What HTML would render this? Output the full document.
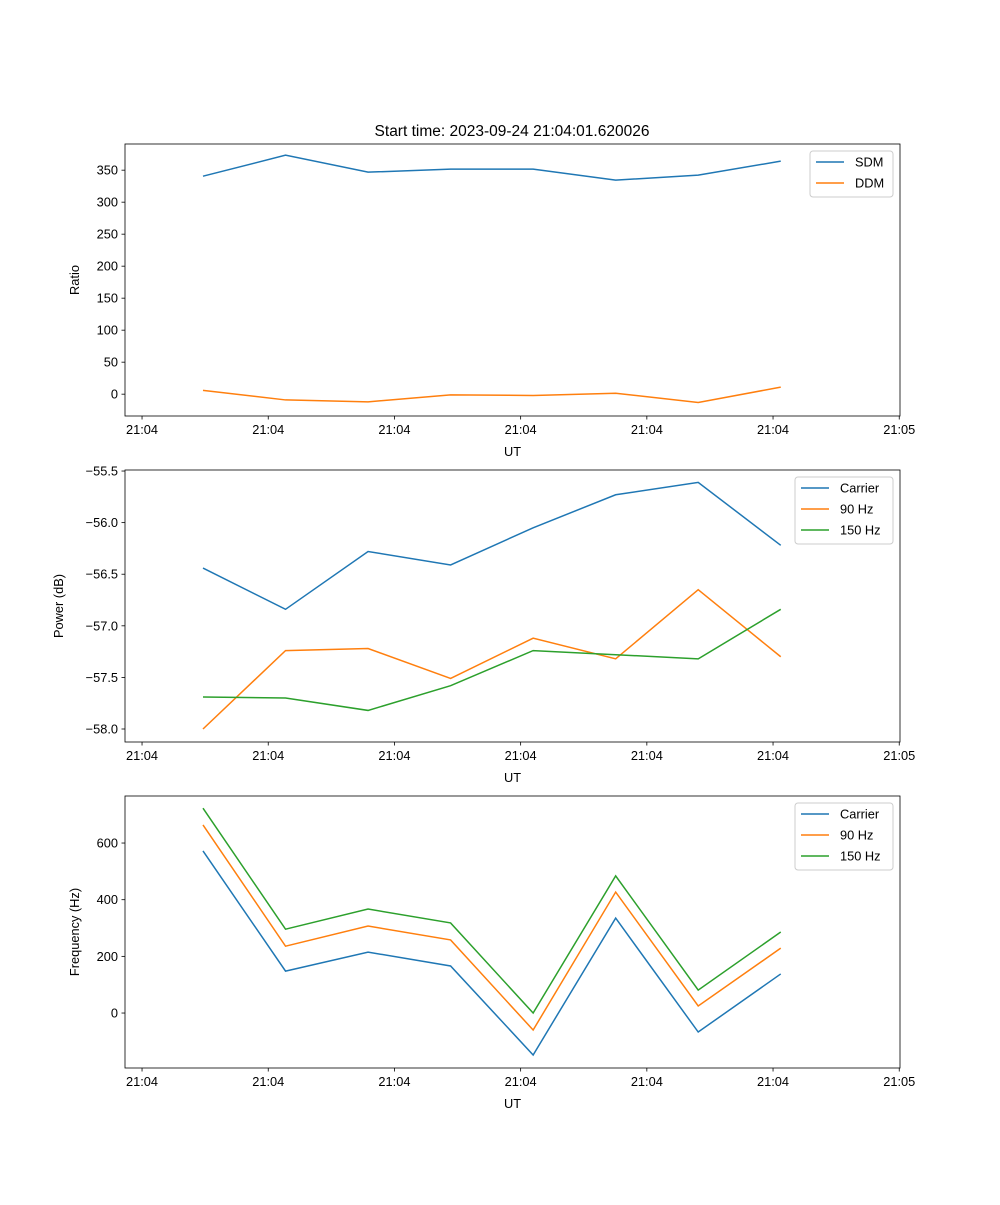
<!DOCTYPE html>
<html><head><meta charset="utf-8"><style>
body{margin:0;background:#fff}
svg text{font-family:"Liberation Sans","DejaVu Sans",sans-serif;fill:#000}
</style></head><body>
<svg id="fig" width="1000" height="1200" xmlns="http://www.w3.org/2000/svg">
<rect width="1000" height="1200" fill="#fff"/>
<text x="512" y="136" font-size="15.5" text-anchor="middle">Start time: 2023-09-24 21:04:01.620026</text>
</svg>
<script>
const times = [0.483, 1.137, 1.791, 2.445, 3.099, 3.753, 4.407, 5.061];
const xTickVals = [0, 1, 2, 3, 4, 5, 6];
const xTickLabels = ["21:04","21:04","21:04","21:04","21:04","21:04","21:05"];
const sdm = [340.6, 373.4, 346.9, 351.6, 351.6, 334.4, 342.2, 364.1];
const ddm = [6, -9, -12, -1, -2, 1.5, -13, 11];
const pCarrier = [-56.44, -56.84, -56.28, -56.41, -56.05, -55.73, -55.61, -56.22];
const p90 = [-58.0, -57.24, -57.22, -57.51, -57.12, -57.32, -56.65, -57.30];
const p150 = [-57.69, -57.70, -57.82, -57.58, -57.24, -57.28, -57.32, -56.84];
const fCarrier = [572, 148, 215, 166, -148, 335, -67, 138];
const f90 = [664, 236, 307, 258, -60, 427, 25, 229];
const f150 = [723, 296, 367, 318, 0, 484, 81, 286];
const ratioTicks = [0, 50, 100, 150, 200, 250, 300, 350];
const powerTicks = [-58.0, -57.5, -57.0, -56.5, -56.0, -55.5];
const freqTicks = [0, 200, 400, 600];

const NS = "http://www.w3.org/2000/svg";
const svg = document.getElementById('fig');
const C = ['#1f77b4', '#ff7f0e', '#2ca02c'];
const FS = 12.8;
function mk(tag, attrs, parent) {
  const e = document.createElementNS(NS, tag);
  for (const k in attrs) e.setAttribute(k, attrs[k]);
  (parent || svg).appendChild(e);
  return e;
}
const L = 125, R = 900, xMin = -0.135, xMax = 6.006;
function xs(t) { return L + (t - xMin) / (xMax - xMin) * (R - L); }

function panel(name, top, bot, yMin, yMax, yTicks, fmt, ylabel, series, names, legend) {
  const g = mk('g', {});
  
  
  const ys = v => bot - (v - yMin) / (yMax - yMin) * (bot - top);
  series.forEach((s, i) => {
    const p = mk('polyline', {points: s.map((v, j) => xs(times[j]) + ',' + ys(v)).join(' '), fill: 'none', stroke: C[i], 'stroke-width': 1.5}, g);
    
    
  });
  const fr = mk('rect', {x: L, y: top, width: R - L, height: bot - top, fill: 'none', stroke: '#000', 'stroke-width': 0.8}, g);
  
  
  xTickVals.forEach((t, i) => {
    const x = xs(t);
    mk('line', {x1: x, x2: x, y1: bot, y2: bot + 3.5, stroke: '#000', 'stroke-width': 0.8}, g);
    const tx = mk('text', {x: x, y: bot + 18, 'font-size': FS, 'text-anchor': 'middle'}, g);
    tx.textContent = xTickLabels[i];
    
    
  });
  yTicks.forEach(v => {
    const y = ys(v);
    mk('line', {x1: L - 3.5, x2: L, y1: y, y2: y, stroke: '#000', 'stroke-width': 0.8}, g);
    const tx = mk('text', {x: L - 7, y: y + 4.5, 'font-size': FS, 'text-anchor': 'end'}, g);
    tx.textContent = fmt(v);
    
    
  });
  const xl = mk('text', {x: (L + R) / 2, y: bot + 40, 'font-size': FS, 'text-anchor': 'middle'}, g);
  xl.textContent = 'UT';
  
  
  const yc = (top + bot) / 2;
  const yl = mk('text', {x: ylabel[1], y: yc, 'font-size': FS, 'text-anchor': 'middle', transform: 'rotate(-90 ' + ylabel[1] + ' ' + yc + ')'}, g);
  yl.textContent = ylabel[0];
  
  
  const lg = mk('g', {}, g);
  
  
  mk('rect', {x: legend[0], y: top + 7, width: 893 - legend[0], height: names.length * 21 + 4, rx: 3, fill: '#fff', stroke: '#ccc', 'stroke-width': 1}, lg);
  names.forEach((n, i) => {
    const y = top + 18 + i * 21;
    mk('line', {x1: legend[0] + 6, x2: legend[0] + 34, y1: y, y2: y, stroke: C[i], 'stroke-width': 1.5}, lg);
    const t = mk('text', {x: legend[0] + 45, y: y + 4.5, 'font-size': FS}, lg);
    t.textContent = n;
    
    
  });
}
panel('ratio', 144, 416, -34.1, 390.9, ratioTicks, v => String(v), ['Ratio', 79], [sdm, ddm], ['SDM', 'DDM'], [810]);
panel('power', 470, 742, -58.126, -55.49, powerTicks, v => v.toFixed(1).replace('-', '−'), ['Power (dB)', 63], [pCarrier, p90, p150], ['Carrier', '90 Hz', '150 Hz'], [795]);
panel('frequency', 796, 1068, -194, 766, freqTicks, v => String(v), ['Frequency (Hz)', 79], [fCarrier, f90, f150], ['Carrier', '90 Hz', '150 Hz'], [795]);
</script>
</body></html>
